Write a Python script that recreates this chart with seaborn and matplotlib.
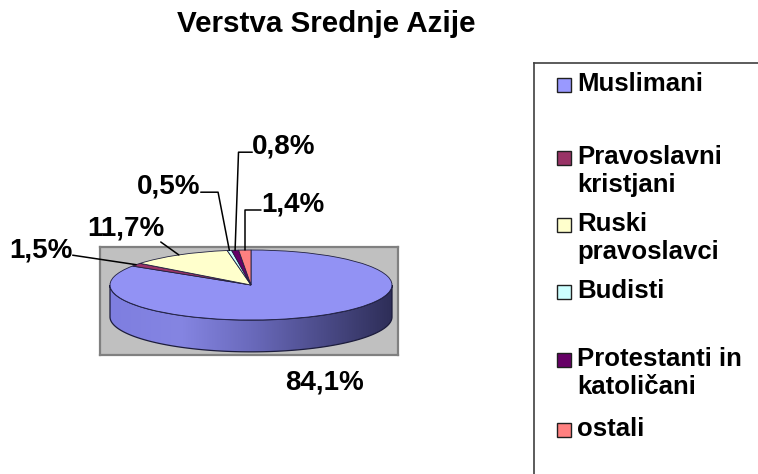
import numpy as np
import matplotlib
matplotlib.use("Agg")
import matplotlib.pyplot as plt
import seaborn as sns
from matplotlib.colors import LinearSegmentedColormap
from matplotlib.patches import Polygon, Rectangle

sns.set_theme(style="white")
plt.rcParams['font.family'] = ['Liberation Sans', 'DejaVu Sans']
plt.rcParams['text.color'] = 'black'

# data
categories = ["Muslimani", "Pravoslavni\nkristjani", "Ruski\npravoslavci",
              "Budisti", "Protestanti in\nkatoličani", "ostali"]
shares = [84.1, 1.5, 11.7, 0.5, 0.8, 1.4]
colors = ["#9999FF", "#993366", "#FFFFCC", "#CCFFFF", "#660066", "#FF8080"]
palette = sns.color_palette(colors)

W, H = 758, 474
fig = plt.figure(figsize=(W / 100, H / 100), dpi=100)
fig.patch.set_facecolor("white")

# pie sits inside the grey plot area (pixel box 100..398 x 247..355)
ax = fig.add_axes([100 / W, 1 - 355 / H, 298 / W, 108 / H])
depth = 0.91

# side of the 3d disc, with a light-to-dark shading
th = np.linspace(np.pi, 2 * np.pi, 300)
band = np.concatenate([np.column_stack([np.cos(th), np.sin(th)]),
                       np.column_stack([np.cos(th[::-1]), np.sin(th[::-1]) - depth])])
side = Polygon(band, closed=True, facecolor="none", edgecolor="#1c1c3c", lw=0.9, zorder=2)
ax.add_patch(side)
side_cmap = LinearSegmentedColormap.from_list(
    "side", ["#7e7ee0", "#8585e2", "#6a6abc", "#4c4c8a", "#2e2e58"])
grad = np.linspace(0, 1, 256).reshape(1, -1)
im = ax.imshow(grad, extent=(-1, 1, -1 - depth, 0), cmap=side_cmap,
               aspect="auto", zorder=1)
im.set_clip_path(side)

wedges, _ = ax.pie(shares, colors=palette, startangle=90, counterclock=False,
                   radius=1, frame=True,
                   wedgeprops=dict(edgecolor="#202040", linewidth=0.6))
for w in wedges:
    w.set_zorder(3)
wedges[0].set_facecolor("#9292F4")

ax.set_aspect("auto")
ax.set_xlim((100 - 251) / 141, (398 - 251) / 141)
ax.set_ylim((285 - 355) / 35, (285 - 247) / 35)
ax.set_xticks([])
ax.set_yticks([])
ax.set_facecolor("#C0C0C0")
for sp in ax.spines.values():
    sp.set_visible(True)
    sp.set_color("#808080")
    sp.set_linewidth(1.6)

# percentage labels (image pixel positions of text centres)
label_pos = [(324, 382), (41, 250), (126, 229), (169, 187), (284, 147), (293, 205)]
leader = [None,
          dict(relpos=(1.0, 0.3), connectionstyle="arc3"),
          dict(relpos=(0.95, 0.0), connectionstyle="arc3"),
          dict(relpos=(1.0, 0.3), connectionstyle="angle,angleA=0,angleB=101,rad=0"),
          dict(relpos=(0.0, 0.3), connectionstyle="angle,angleA=0,angleB=88,rad=0"),
          dict(relpos=(0.0, 0.3), connectionstyle="angle,angleA=0,angleB=90,rad=0")]

for w, v, (px, py), ld in zip(wedges, shares, label_pos, leader):
    txt = f"{v:.1f}%".replace(".", ",")
    mid = np.deg2rad((w.theta1 + w.theta2) / 2)
    tip = (np.cos(mid), np.sin(mid))
    if ld is None:
        fig.text(px / W, 1 - py / H, txt, ha="center", va="center",
                 fontsize=20, fontweight="bold")
        continue
    ax.annotate(txt, xy=tip, xycoords="data", xytext=(px, H - py),
                textcoords="figure pixels", ha="center", va="center",
                fontsize=20, fontweight="bold", annotation_clip=False,
                arrowprops=dict(arrowstyle="-", color="black", lw=1.1,
                                shrinkA=0, shrinkB=0, patchA=None, **ld))

fig.text(326 / W, 1 - 24 / H, "Verstva Srednje Azije", ha="center", va="center",
         fontsize=21.3, fontweight="bold")

# legend box on the right (runs past the image edge)
lax = fig.add_axes([534 / W, 0, 1 - 534 / W, 1 - 63 / H])
lax.set_xlim(534, W)
lax.set_ylim(H, 63)
lax.set_xticks([])
lax.set_yticks([])
lax.set_facecolor("white")
for name, sp in lax.spines.items():
    sp.set_visible(name in ("left", "top"))
    sp.set_color("#404040")
    sp.set_linewidth(1.2)

baselines = [95, 168, 235, 302, 370, 440]
for lab, col, yb in zip(categories, palette, baselines):
    lax.add_patch(Rectangle((557, yb - 17), 14, 14, facecolor=col,
                            edgecolor="#202020", lw=1.0))
    lax.text(577, yb - 23, lab, ha="left", va="top", fontsize=18.5,
             fontweight="bold", linespacing=1.2)

fig.savefig("out.png", dpi=100)
